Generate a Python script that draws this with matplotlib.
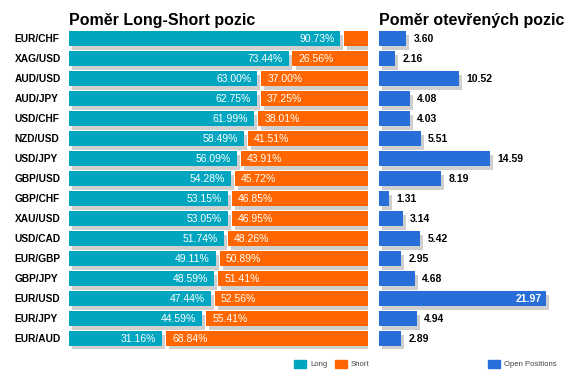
import matplotlib
matplotlib.use('Agg')
import matplotlib.pyplot as plt
import matplotlib.patheffects as pe
from matplotlib.patches import Patch

plt.rcParams['font.family'] = ['Liberation Sans', 'DejaVu Sans']

# data
pary = ['EUR/CHF', 'XAG/USD', 'AUD/USD', 'AUD/JPY', 'USD/CHF', 'NZD/USD', 'USD/JPY', 'GBP/USD',
        'GBP/CHF', 'XAU/USD', 'USD/CAD', 'EUR/GBP', 'GBP/JPY', 'EUR/USD', 'EUR/JPY', 'EUR/AUD']
long_pct = [90.73, 73.44, 63.00, 62.75, 61.99, 58.49, 56.09, 54.28,
            53.15, 53.05, 51.74, 49.11, 48.59, 47.44, 44.59, 31.16]
short_pct = [9.27, 26.56, 37.00, 37.25, 38.01, 41.51, 43.91, 45.72,
             46.85, 46.95, 48.26, 50.89, 51.41, 52.56, 55.41, 68.84]
open_pos = [3.60, 2.16, 10.52, 4.08, 4.03, 5.51, 14.59, 8.19,
            1.31, 3.14, 5.42, 2.95, 4.68, 21.97, 4.94, 2.89]

c_long = '#00A6BF'
c_short = '#FF6600'
c_open = '#276ED8'
c_shadow = '#CFCFCF'

stin = [pe.SimplePatchShadow(offset=(2.2, -2.6), shadow_rgbFace=c_shadow, alpha=1.0), pe.Normal()]

W, H = 576, 381
fig = plt.figure(figsize=(W / 100, H / 100), dpi=100)

def box(x0, x1, top, bottom):
    return [x0 / W, 1 - bottom / H, (x1 - x0) / W, (bottom - top) / H]

ax1 = fig.add_axes(box(69, 368, 28.5, 348.5))
ax2 = fig.add_axes(box(379, 569, 28.5, 348.5))

y = list(range(len(pary)))
mezera = 1.3

b_long = ax1.barh(y, long_pct, height=0.76, color=c_long)
for p in b_long:
    p.set_path_effects(stin)
b_short = ax1.barh(y, [s - mezera for s in short_pct], left=[l + mezera for l in long_pct],
                   height=0.76, color=c_short)
for p in b_short:
    p.set_path_effects(stin)

for i in y:
    ax1.text(long_pct[i] - 2.0, i, '%.2f%%' % long_pct[i], color='white', fontsize=7.5,
             ha='right', va='center')
    if short_pct[i] > 15:
        ax1.text(long_pct[i] + mezera + 2.0, i, '%.2f%%' % short_pct[i], color='white',
                 fontsize=7.5, ha='left', va='center')

ax1.set_xlim(0, 100)
ax1.set_ylim(len(pary) - 0.5, -0.5)
ax1.set_yticks(y)
ax1.set_yticklabels(pary, fontsize=7.3, fontweight='bold')
ax1.tick_params(axis='y', length=0, pad=39)
for t in ax1.get_yticklabels():
    t.set_horizontalalignment('left')
ax1.set_xticks([])

b_open = ax2.barh(y, open_pos, height=0.76, color=c_open)
for p in b_open:
    p.set_path_effects(stin)
for i in y:
    if open_pos[i] > 20:
        ax2.text(open_pos[i] - 0.5, i, '%.2f' % open_pos[i], color='white', fontsize=7.5,
                 fontweight='bold', ha='right', va='center')
    else:
        ax2.text(open_pos[i] + 0.95, i, '%.2f' % open_pos[i], color='black', fontsize=7.5,
                 fontweight='bold', ha='left', va='center')
ax2.set_xlim(0, 25)
ax2.set_ylim(len(pary) - 0.5, -0.5)
ax2.set_xticks([])
ax2.set_yticks([])

for ax in (ax1, ax2):
    for s in ax.spines.values():
        s.set_visible(False)

fig.text(69 / W, 1 - 25 / H, 'Poměr Long-Short pozic', fontsize=11.5, fontweight='bold',
         ha='left', va='baseline')
fig.text(379 / W, 1 - 25 / H, 'Poměr otevřených pozic', fontsize=11.5, fontweight='bold',
         ha='left', va='baseline')

# legenda bez stinu
leg_kw = dict(frameon=False, fontsize=5.6, handlelength=1.55, handleheight=1.3,
              handletextpad=0.5, borderpad=0, borderaxespad=0, labelcolor='#444444')
fig.legend(handles=[Patch(color=c_long, label='Long'), Patch(color=c_short, label='Short')],
           ncol=2, columnspacing=1.0, loc='center left',
           bbox_to_anchor=(294 / W, 1 - 364 / H), **leg_kw)
fig.legend(handles=[Patch(color=c_open, label='Open Positions')], loc='center left',
           bbox_to_anchor=(488 / W, 1 - 364 / H), **leg_kw)

fig.savefig('out.png', dpi=100)
